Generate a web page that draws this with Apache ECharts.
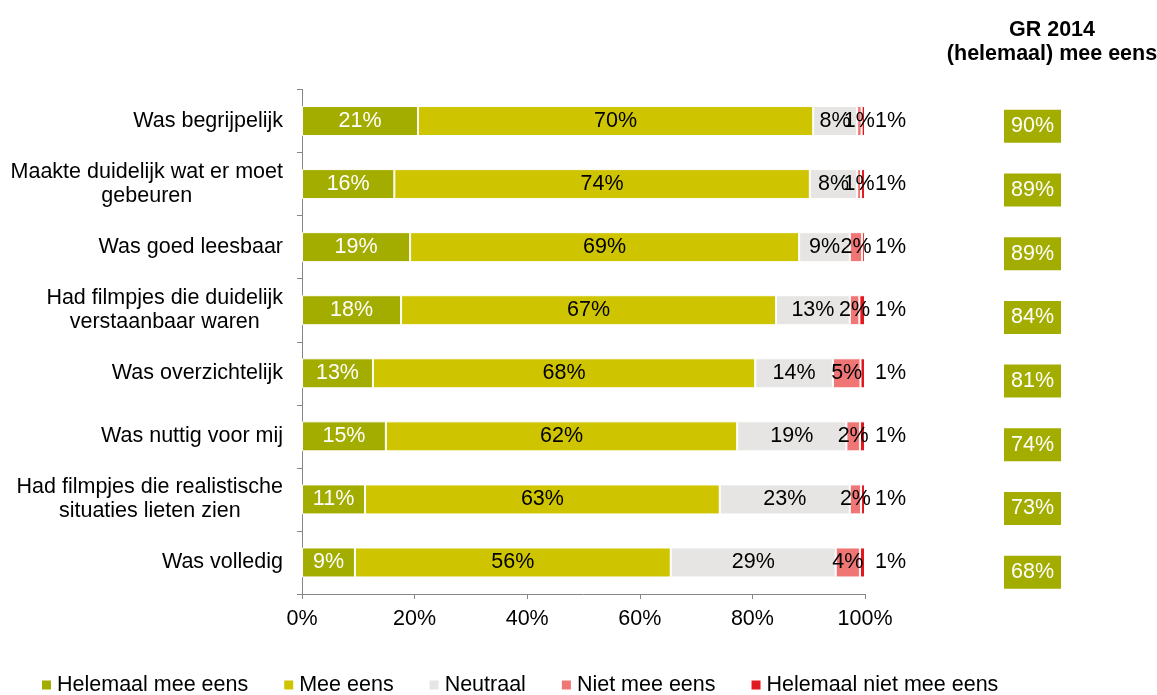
<!DOCTYPE html>
<html>
<head>
<meta charset="utf-8">
<script src="https://cdn.jsdelivr.net/npm/echarts@6/dist/echarts.min.js"></script>
<style>html,body{margin:0;padding:0;background:#fff;}#c{width:1157px;height:695px;}</style>
</head>
<body>
<div id="c"></div>
<script>
const categories = [
  'Was begrijpelijk',
  'Maakte duidelijk wat er moet\ngebeuren',
  'Was goed leesbaar',
  'Had filmpjes die duidelijk\nverstaanbaar waren',
  'Was overzichtelijk',
  'Was nuttig voor mij',
  'Had filmpjes die realistische\nsituaties lieten zien',
  'Was volledig'
];
const seriesNames = ['Helemaal mee eens', 'Mee eens', 'Neutraal', 'Niet mee eens', 'Helemaal niet mee eens'];
const helemaalMeeEens   = [20.6, 16.4, 19.2, 17.6, 12.6, 14.9, 11.2, 9.4];
const meeEens           = [70.2, 73.8, 69.1, 66.6, 67.9, 62.4, 63.0, 56.1];
const neutraal          = [7.8, 8.4, 9.0, 13.1, 13.8, 19.4, 23.1, 29.3];
const nietMeeEens       = [0.8, 0.7, 2.2, 1.7, 4.9, 2.4, 2.0, 4.3];
const helemaalNietMeeEens = [0.6, 0.7, 0.5, 1.0, 0.8, 0.9, 0.7, 0.9];
const gr2014 = [90, 89, 89, 84, 81, 74, 73, 68];
const xTicks = [0, 20, 40, 60, 80, 100];
const grTitle = 'GR 2014\n(helemaal) mee eens';

const colors = ['#a3ad00', '#cfc400', '#e6e5e4', '#f07575', '#e3171e'];
const values = [helemaalMeeEens, meeEens, neutraal, nietMeeEens, helemaalNietMeeEens];
const FONT = "'Liberation Sans', Arial, sans-serif";
const FS = 21.5;

const series = values.map((arr, i) => ({
  name: seriesNames[i],
  type: 'bar',
  stack: 'total',
  barWidth: 30,
  xAxisIndex: 0,
  yAxisIndex: 0,
  data: arr,
  itemStyle: { color: colors[i], borderColor: '#ffffff', borderWidth: 1 },
  label: {
    show: true,
    position: i === 4 ? 'right' : 'inside',
    distance: 10,
    fontSize: FS,
    fontFamily: FONT,
    color: i === 0 ? '#ffffff' : '#000000',
    formatter: p => Math.round(p.value) + '%'
  }
}));

const chart = echarts.init(document.getElementById('c'), null, { renderer: 'canvas' });
chart.setOption({
  animation: false,
  textStyle: { fontFamily: FONT },
  title: {
    text: grTitle,
    left: 1047,
    top: 13,
    textAlign: 'center',
    textStyle: { fontSize: FS, fontWeight: 'bold', color: '#000', lineHeight: 24, fontFamily: FONT }
  },
  legend: {
    data: seriesNames,
    left: 40,
    top: 674,
    padding: 0,
    icon: 'rect',
    itemWidth: 11,
    itemHeight: 11,
    itemGap: 34,
    textStyle: { fontSize: FS, color: '#000', fontFamily: FONT }
  },
  grid: [
    { left: 302, right: 292, top: 89.5, bottom: 101, containLabel: false },
    { left: 302, right: 292, top: 94.5, bottom: 91, containLabel: false }
  ],
  xAxis: [
    {
      gridIndex: 0, type: 'value', min: xTicks[0], max: xTicks[xTicks.length - 1], interval: 20,
      splitLine: { show: false },
      axisLine: { show: true, lineStyle: { color: '#868686', width: 1 } },
      axisTick: { show: true, length: 5, lineStyle: { color: '#868686' } },
      axisLabel: { fontSize: FS, color: '#000', margin: 14, formatter: '{value}%', fontFamily: FONT }
    },
    { gridIndex: 1, type: 'value', min: 0, max: 100, show: false }
  ],
  yAxis: [
    {
      gridIndex: 0, type: 'category', inverse: true, data: categories,
      axisLine: { show: true, lineStyle: { color: '#868686', width: 1 } },
      axisTick: { show: true, length: 5, lineStyle: { color: '#868686' } },
      axisLabel: {
        fontSize: FS, color: '#000', margin: 19, fontFamily: FONT,
        formatter: v => v.split('\n').map(l => '{c|' + l + '}').join('\n'),
        rich: { c: { align: 'center', fontSize: FS, lineHeight: 24, color: '#000', fontFamily: FONT } }
      }
    },
    {
      gridIndex: 1, type: 'category', inverse: true, data: gr2014.map(v => v + '%'),
      position: 'right',
      axisLine: { show: false }, axisTick: { show: false },
      axisLabel: {
        inside: false, margin: 139, align: 'left',
        fontSize: FS, color: '#ffffff', fontFamily: FONT,
        backgroundColor: '#a3ad00', padding: [4, 7, 4, 7], lineHeight: 25
      }
    }
  ],
  series: series
});
</script>
</body>
</html>
